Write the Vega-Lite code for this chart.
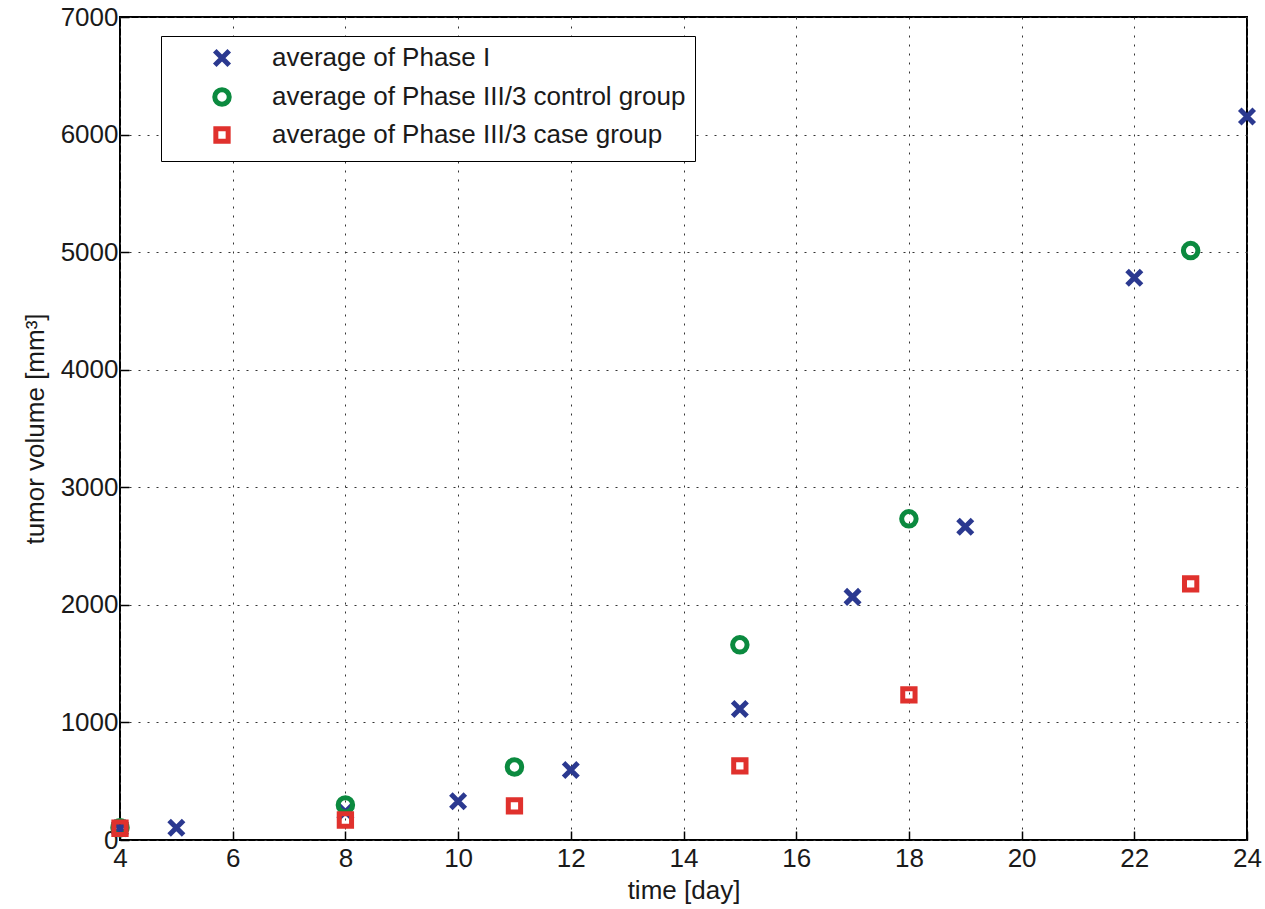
{
  "$schema": "https://vega.github.io/schema/vega-lite/v6.json",
  "autosize": "none",
  "width": 1127,
  "height": 823,
  "padding": {"left": 120, "top": 17, "right": 18, "bottom": 69},
  "background": "white",
  "config": {
    "font": "Liberation Sans",
    "view": {"stroke": "black", "strokeWidth": 2},
    "axis": {
      "labelFont": "Liberation Sans",
      "titleFont": "Liberation Sans",
      "labelFontSize": 26,
      "titleFontSize": 26,
      "labelColor": "#1a1a1a",
      "titleColor": "#1a1a1a",
      "titleFontWeight": "normal",
      "domain": false,
      "tickColor": "black",
      "tickWidth": 1.5,
      "tickSize": -9,
      "grid": true,
      "gridColor": "#333333",
      "gridDash": [2, 7],
      "gridWidth": 1,
      "format": "d"
    }
  },
  "data": {
    "values": [
      {"day": 4, "volume": 100, "series": "average of Phase I"},
      {"day": 5, "volume": 105, "series": "average of Phase I"},
      {"day": 8, "volume": 240, "series": "average of Phase I"},
      {"day": 10, "volume": 330, "series": "average of Phase I"},
      {"day": 12, "volume": 595, "series": "average of Phase I"},
      {"day": 15, "volume": 1115, "series": "average of Phase I"},
      {"day": 17, "volume": 2068, "series": "average of Phase I"},
      {"day": 19, "volume": 2664, "series": "average of Phase I"},
      {"day": 22, "volume": 4783, "series": "average of Phase I"},
      {"day": 24, "volume": 6153, "series": "average of Phase I"},
      {"day": 4, "volume": 105, "series": "average of Phase III/3 control group"},
      {"day": 8, "volume": 298, "series": "average of Phase III/3 control group"},
      {"day": 11, "volume": 621, "series": "average of Phase III/3 control group"},
      {"day": 15, "volume": 1660, "series": "average of Phase III/3 control group"},
      {"day": 18, "volume": 2732, "series": "average of Phase III/3 control group"},
      {"day": 23, "volume": 5013, "series": "average of Phase III/3 control group"},
      {"day": 4, "volume": 100, "series": "average of Phase III/3 case group"},
      {"day": 8, "volume": 170, "series": "average of Phase III/3 case group"},
      {"day": 11, "volume": 290, "series": "average of Phase III/3 case group"},
      {"day": 15, "volume": 630, "series": "average of Phase III/3 case group"},
      {"day": 18, "volume": 1234, "series": "average of Phase III/3 case group"},
      {"day": 23, "volume": 2179, "series": "average of Phase III/3 case group"}
    ]
  },
  "layer": [
    {
      "mark": {"type": "point", "filled": false, "strokeWidth": 5, "size": 210, "opacity": 1},
      "encoding": {
        "x": {
          "field": "day", "type": "quantitative",
          "scale": {"domain": [4, 24], "nice": false, "zero": false},
          "axis": {"values": [4, 6, 8, 10, 12, 14, 16, 18, 20, 22, 24], "title": "time [day]", "titlePadding": 6, "labelPadding": 14, "labelFlush": false}
        },
        "y": {
          "field": "volume", "type": "quantitative",
          "scale": {"domain": [0, 7000], "nice": false},
          "axis": {"values": [0, 1000, 2000, 3000, 4000, 5000, 6000, 7000], "title": "tumor volume [mm³]", "titlePadding": 12, "labelPadding": 11, "labelFlush": false}
        },
        "color": {
          "field": "series", "type": "nominal",
          "scale": {
            "domain": ["average of Phase I", "average of Phase III/3 control group", "average of Phase III/3 case group"],
            "range": ["#2B3990", "#0B8A3F", "#E0312D"]
          },
          "legend": {
            "title": null,
            "orient": "none",
            "legendX": 41,
            "legendY": 19,
            "direction": "vertical",
            "fillColor": "white",
            "strokeColor": "black",
            "padding": 9,
            "labelFontSize": 26,
            "labelFont": "Liberation Sans",
            "labelColor": "#1a1a1a",
            "labelLimit": 0,
            "labelOffset": 37,
            "symbolOffset": 39,
            "rowPadding": 3,
            "symbolSize": 210,
            "symbolStrokeWidth": 5,
            "offset": 0
          }
        },
        "shape": {
          "field": "series", "type": "nominal",
          "scale": {
            "domain": ["average of Phase I", "average of Phase III/3 control group", "average of Phase III/3 case group"],
            "range": ["M-1,-1L1,1M1,-1L-1,1", "circle", "M-0.85,-0.85L0.85,-0.85L0.85,0.85L-0.85,0.85Z"]
          },
          "legend": null
        }
      }
    }
  ]
}
